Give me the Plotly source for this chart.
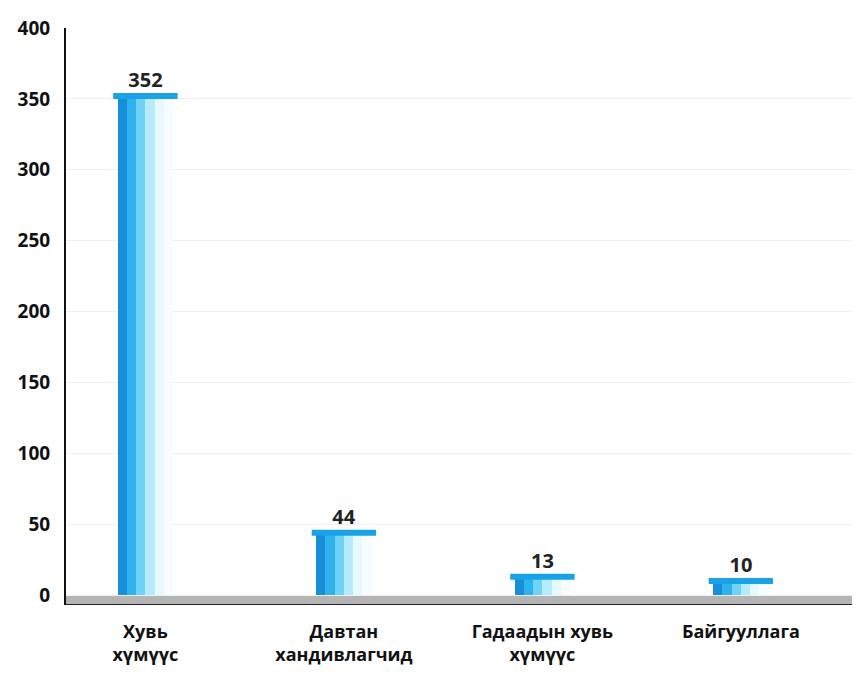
import plotly.graph_objects as go

categories = ["Хувь<br>хүмүүс", "Давтан<br>хандивлагчид", "Гадаадын хувь<br>хүмүүс", "Байгууллага"]
values = [352, 44, 13, 10]
y_ticks = [0, 50, 100, 150, 200, 250, 300, 350, 400]

FONT = "Open Sans"
bar_w = 0.28
strips = ["#1590d8", "#2fb2ee", "#6fd2f7", "#b5ebfc", "#e6f9ff", "#f7fdff"]
n = len(strips)
sw = bar_w / n

fig = go.Figure()
for i, c in enumerate(strips):
    fig.add_trace(go.Bar(
        x=categories, y=values, width=sw, offset=-bar_w / 2 + i * sw,
        marker=dict(color=c, line=dict(width=0)),
        hoverinfo="skip", showlegend=False,
    ))
# value labels
fig.add_trace(go.Bar(
    x=categories, y=values, width=bar_w,
    marker=dict(color="rgba(0,0,0,0)", line=dict(width=0)),
    text=[str(v) for v in values], textposition="outside",
    textfont=dict(family=FONT, size=20, color="#222", weight=700),
    cliponaxis=False, showlegend=False,
))
# caps on top of cylinders
fig.add_trace(go.Scatter(
    x=categories, y=values, mode="markers",
    marker=dict(symbol="line-ew", size=46, line=dict(width=6, color="#1aa2e6")),
    showlegend=False, hoverinfo="skip", cliponaxis=False,
))

# floor
fig.add_shape(type="rect", xref="paper", yref="y", x0=0, x1=1, y0=-7, y1=0,
              fillcolor="#b4b4b4", line=dict(width=0), layer="below")
fig.add_shape(type="line", xref="paper", yref="y", x0=0, x1=1, y0=-7, y1=-7,
              line=dict(color="#222", width=2), layer="above")

fig.update_layout(
    width=852, height=672,
    margin=dict(l=58, r=0, t=20, b=75),
    paper_bgcolor="white", plot_bgcolor="white",
    barmode="overlay", bargap=0,
    font=dict(family=FONT, color="#111"),
    xaxis=dict(
        type="category", range=[-0.4, 3.6],
        tickfont=dict(family=FONT, size=18, color="#111", weight=700),
        showgrid=False, showline=False, ticks="", ticklabelstandoff=14,
    ),
    yaxis=dict(
        range=[-7, 400], tickvals=y_ticks,
        tickfont=dict(family=FONT, size=19, color="#111", weight=700),
        showgrid=True, gridcolor="#f0f0f0", gridwidth=1,
        showline=True, linecolor="#111", linewidth=2,
        zeroline=False, ticks="", ticklabelstandoff=10,
    ),
)
fig.write_html("out.html")
